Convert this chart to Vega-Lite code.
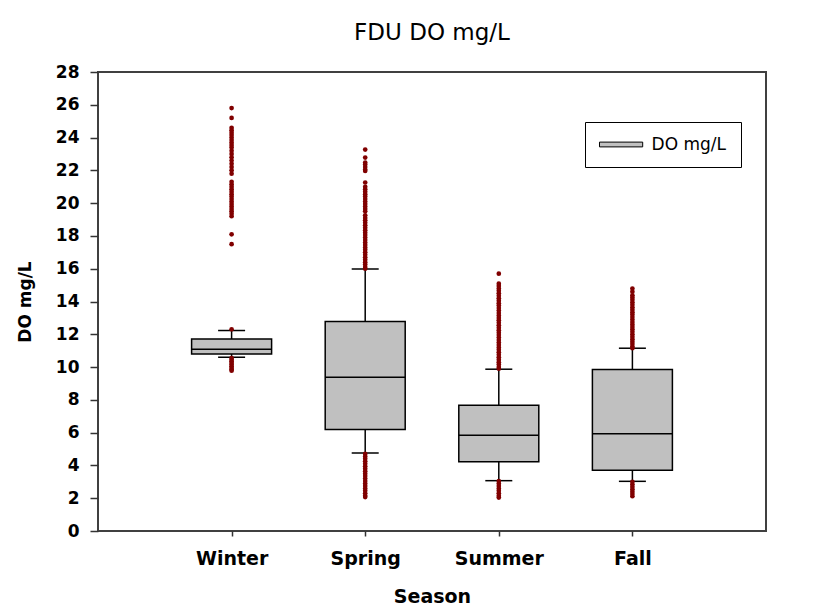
{
  "$schema": "https://vega.github.io/schema/vega-lite/v6.json",
  "width": 668,
  "height": 459,
  "autosize": {"type": "none"},
  "padding": {"left": 98, "top": 72, "right": 59, "bottom": 80},
  "background": "white",
  "title": {"text": "FDU DO mg/L", "font": "DejaVu Sans", "fontSize": 23, "fontWeight": "normal", "color": "black", "anchor": "middle", "baseline": "alphabetic", "offset": 0},
  "datasets": {
    "stats": [
      {"season": "Winter", "lower": 10.6, "q1": 10.8, "median": 11.09, "q3": 11.71, "upper": 12.23},
      {"season": "Spring", "lower": 4.76, "q1": 6.19, "median": 9.38, "q3": 12.78, "upper": 15.99},
      {"season": "Summer", "lower": 3.07, "q1": 4.23, "median": 5.84, "q3": 7.67, "upper": 9.87},
      {"season": "Fall", "lower": 3.03, "q1": 3.7, "median": 5.94, "q3": 9.85, "upper": 11.15}
    ],
    "outliers": [
      {"season": "Winter", "v": 25.8}, {"season": "Winter", "v": 25.2}, {"season": "Winter", "v": 24.6}, {"season": "Winter", "v": 24.45},
      {"season": "Winter", "v": 24.3}, {"season": "Winter", "v": 24.15}, {"season": "Winter", "v": 24.0}, {"season": "Winter", "v": 23.85},
      {"season": "Winter", "v": 23.7}, {"season": "Winter", "v": 23.55}, {"season": "Winter", "v": 23.4}, {"season": "Winter", "v": 23.2},
      {"season": "Winter", "v": 23.0}, {"season": "Winter", "v": 22.8}, {"season": "Winter", "v": 22.6}, {"season": "Winter", "v": 22.4},
      {"season": "Winter", "v": 22.2}, {"season": "Winter", "v": 22.0}, {"season": "Winter", "v": 21.8}, {"season": "Winter", "v": 21.3},
      {"season": "Winter", "v": 21.15}, {"season": "Winter", "v": 21.0}, {"season": "Winter", "v": 20.85}, {"season": "Winter", "v": 20.7},
      {"season": "Winter", "v": 20.55}, {"season": "Winter", "v": 20.4}, {"season": "Winter", "v": 20.25}, {"season": "Winter", "v": 20.1},
      {"season": "Winter", "v": 19.95}, {"season": "Winter", "v": 19.8}, {"season": "Winter", "v": 19.65}, {"season": "Winter", "v": 19.5},
      {"season": "Winter", "v": 19.35}, {"season": "Winter", "v": 19.2}, {"season": "Winter", "v": 18.1}, {"season": "Winter", "v": 17.5},
      {"season": "Winter", "v": 12.3},
      {"season": "Winter", "v": 10.55}, {"season": "Winter", "v": 10.45}, {"season": "Winter", "v": 10.35}, {"season": "Winter", "v": 10.25},
      {"season": "Winter", "v": 10.15}, {"season": "Winter", "v": 10.05}, {"season": "Winter", "v": 9.95}, {"season": "Winter", "v": 9.85},
      {"season": "Winter", "v": 9.78},
      {"season": "Spring", "v": 23.27}, {"season": "Spring", "v": 22.78}, {"season": "Spring", "v": 22.48}, {"season": "Spring", "v": 22.35},
      {"season": "Spring", "v": 22.2}, {"season": "Spring", "v": 22.05}, {"season": "Spring", "v": 21.96}, {"season": "Spring", "v": 21.26},
      {"season": "Spring", "v": 21.0}, {"season": "Spring", "v": 20.85}, {"season": "Spring", "v": 20.7}, {"season": "Spring", "v": 20.55},
      {"season": "Spring", "v": 20.4}, {"season": "Spring", "v": 20.25}, {"season": "Spring", "v": 20.1}, {"season": "Spring", "v": 19.95},
      {"season": "Spring", "v": 19.8}, {"season": "Spring", "v": 19.65}, {"season": "Spring", "v": 19.5}, {"season": "Spring", "v": 19.26},
      {"season": "Spring", "v": 19.1}, {"season": "Spring", "v": 18.95}, {"season": "Spring", "v": 18.8}, {"season": "Spring", "v": 18.65},
      {"season": "Spring", "v": 18.5}, {"season": "Spring", "v": 18.35}, {"season": "Spring", "v": 18.2}, {"season": "Spring", "v": 18.05},
      {"season": "Spring", "v": 17.9}, {"season": "Spring", "v": 17.75}, {"season": "Spring", "v": 17.6}, {"season": "Spring", "v": 17.45},
      {"season": "Spring", "v": 17.3}, {"season": "Spring", "v": 17.15}, {"season": "Spring", "v": 17.0}, {"season": "Spring", "v": 16.85},
      {"season": "Spring", "v": 16.7}, {"season": "Spring", "v": 16.55}, {"season": "Spring", "v": 16.4}, {"season": "Spring", "v": 16.25},
      {"season": "Spring", "v": 16.1}, {"season": "Spring", "v": 16.0},
      {"season": "Spring", "v": 4.7}, {"season": "Spring", "v": 4.55}, {"season": "Spring", "v": 4.4}, {"season": "Spring", "v": 4.25},
      {"season": "Spring", "v": 4.1}, {"season": "Spring", "v": 3.95}, {"season": "Spring", "v": 3.8}, {"season": "Spring", "v": 3.65},
      {"season": "Spring", "v": 3.5}, {"season": "Spring", "v": 3.35}, {"season": "Spring", "v": 3.2}, {"season": "Spring", "v": 3.05},
      {"season": "Spring", "v": 2.9}, {"season": "Spring", "v": 2.75}, {"season": "Spring", "v": 2.6}, {"season": "Spring", "v": 2.45},
      {"season": "Spring", "v": 2.3}, {"season": "Spring", "v": 2.15}, {"season": "Spring", "v": 2.07},
      {"season": "Summer", "v": 15.7}, {"season": "Summer", "v": 15.09}, {"season": "Summer", "v": 14.95}, {"season": "Summer", "v": 14.8},
      {"season": "Summer", "v": 14.65}, {"season": "Summer", "v": 14.5}, {"season": "Summer", "v": 14.35}, {"season": "Summer", "v": 14.2},
      {"season": "Summer", "v": 14.05}, {"season": "Summer", "v": 13.9}, {"season": "Summer", "v": 13.75}, {"season": "Summer", "v": 13.6},
      {"season": "Summer", "v": 13.45}, {"season": "Summer", "v": 13.3}, {"season": "Summer", "v": 13.15}, {"season": "Summer", "v": 13.0},
      {"season": "Summer", "v": 12.85}, {"season": "Summer", "v": 12.7}, {"season": "Summer", "v": 12.55}, {"season": "Summer", "v": 12.4},
      {"season": "Summer", "v": 12.25}, {"season": "Summer", "v": 12.1}, {"season": "Summer", "v": 11.95}, {"season": "Summer", "v": 11.8},
      {"season": "Summer", "v": 11.65}, {"season": "Summer", "v": 11.5}, {"season": "Summer", "v": 11.35}, {"season": "Summer", "v": 11.2},
      {"season": "Summer", "v": 11.05}, {"season": "Summer", "v": 10.9}, {"season": "Summer", "v": 10.75}, {"season": "Summer", "v": 10.6},
      {"season": "Summer", "v": 10.45}, {"season": "Summer", "v": 10.3}, {"season": "Summer", "v": 10.15}, {"season": "Summer", "v": 10.0},
      {"season": "Summer", "v": 9.9},
      {"season": "Summer", "v": 3.05}, {"season": "Summer", "v": 2.9}, {"season": "Summer", "v": 2.75}, {"season": "Summer", "v": 2.6},
      {"season": "Summer", "v": 2.45}, {"season": "Summer", "v": 2.3}, {"season": "Summer", "v": 2.15}, {"season": "Summer", "v": 2.04},
      {"season": "Fall", "v": 14.79}, {"season": "Fall", "v": 14.6}, {"season": "Fall", "v": 14.38}, {"season": "Fall", "v": 14.25},
      {"season": "Fall", "v": 14.1}, {"season": "Fall", "v": 13.95}, {"season": "Fall", "v": 13.8}, {"season": "Fall", "v": 13.65},
      {"season": "Fall", "v": 13.5}, {"season": "Fall", "v": 13.35}, {"season": "Fall", "v": 13.2}, {"season": "Fall", "v": 13.05},
      {"season": "Fall", "v": 12.9}, {"season": "Fall", "v": 12.75}, {"season": "Fall", "v": 12.6}, {"season": "Fall", "v": 12.45},
      {"season": "Fall", "v": 12.3}, {"season": "Fall", "v": 12.15}, {"season": "Fall", "v": 12.0}, {"season": "Fall", "v": 11.85},
      {"season": "Fall", "v": 11.7}, {"season": "Fall", "v": 11.55}, {"season": "Fall", "v": 11.4}, {"season": "Fall", "v": 11.25},
      {"season": "Fall", "v": 11.15},
      {"season": "Fall", "v": 3.0}, {"season": "Fall", "v": 2.85}, {"season": "Fall", "v": 2.7}, {"season": "Fall", "v": 2.55},
      {"season": "Fall", "v": 2.4}, {"season": "Fall", "v": 2.25}, {"season": "Fall", "v": 2.12}
    ]
  },
  "encoding": {
    "x": {
      "field": "season", "type": "nominal",
      "scale": {"type": "point", "padding": 1, "domain": ["Winter", "Spring", "Summer", "Fall"]},
      "axis": {"title": "Season", "labelAngle": 0, "labelFont": "DejaVu Sans", "labelFontWeight": "bold", "labelFontSize": 19, "labelColor": "black", "labelPadding": 13, "tickSize": 5, "tickColor": "#333333", "tickWidth": 1.5, "domain": false, "grid": false, "titleFont": "DejaVu Sans", "titleFontWeight": "bold", "titleFontSize": 19, "titleColor": "black", "titlePadding": 19}
    }
  },
  "layer": [
    {
      "data": {"name": "stats"},
      "mark": {"type": "rule", "color": "black", "strokeWidth": 1.5},
      "encoding": {
        "y": {"field": "lower", "type": "quantitative", "title": "DO mg/L", "scale": {"domain": [0, 28], "nice": false},
          "axis": {"values": [0, 2, 4, 6, 8, 10, 12, 14, 16, 18, 20, 22, 24, 26, 28], "tickCount": 30, "labelOverlap": false}},
        "y2": {"field": "upper"}
      }
    },
    {
      "data": {"name": "stats"},
      "mark": {"type": "tick", "size": 27, "thickness": 1.5, "color": "black", "opacity": 1},
      "encoding": {"y": {"field": "lower", "type": "quantitative", "title": "DO mg/L"}}
    },
    {
      "data": {"name": "stats"},
      "mark": {"type": "tick", "size": 27, "thickness": 1.5, "color": "black", "opacity": 1},
      "encoding": {"y": {"field": "upper", "type": "quantitative", "title": "DO mg/L"}}
    },
    {
      "data": {"name": "stats"},
      "mark": {"type": "bar", "size": 80, "stroke": "black", "strokeWidth": 1.5, "opacity": 1},
      "encoding": {
        "y": {"field": "q1", "type": "quantitative", "title": "DO mg/L"},
        "y2": {"field": "q3"},
        "fill": {"datum": "DO mg/L", "type": "nominal", "scale": {"range": ["#c0c0c0"]},
          "legend": {"title": null, "orient": "none", "legendX": 487, "legendY": 50, "strokeColor": "black", "fillColor": "white", "padding": 14,
            "symbolType": "M-2.7,-0.3L2.7,-0.3L2.7,0.3L-2.7,0.3Z", "symbolSize": 256, "symbolStrokeColor": "black", "symbolStrokeWidth": 1, "symbolOffset": 13.6, "labelOffset": 22,
            "labelFont": "DejaVu Sans", "labelFontSize": 17, "labelColor": "black"}}
      }
    },
    {
      "data": {"name": "stats"},
      "mark": {"type": "tick", "size": 80, "thickness": 1.5, "color": "black", "opacity": 1},
      "encoding": {"y": {"field": "median", "type": "quantitative", "title": "DO mg/L"}}
    },
    {
      "data": {"name": "outliers"},
      "mark": {"type": "circle", "size": 22, "color": "#800000", "opacity": 1},
      "encoding": {"y": {"field": "v", "type": "quantitative", "title": "DO mg/L"}}
    }
  ],
  "config": {
    "view": {"stroke": "#404040", "strokeWidth": 2},
    "axis": {"grid": false},
    "axisY": {"labelOverlap": false, "tickCount": 30, "labelFont": "DejaVu Sans", "labelFontWeight": "bold", "labelFontSize": 17, "labelColor": "black", "labelPadding": 11, "tickSize": 8, "tickColor": "#333333", "tickWidth": 1.5, "domain": false, "grid": false, "titleFont": "DejaVu Sans", "titleFontWeight": "bold", "titleFontSize": 17, "titleColor": "black", "titlePadding": 21}
  }
}
